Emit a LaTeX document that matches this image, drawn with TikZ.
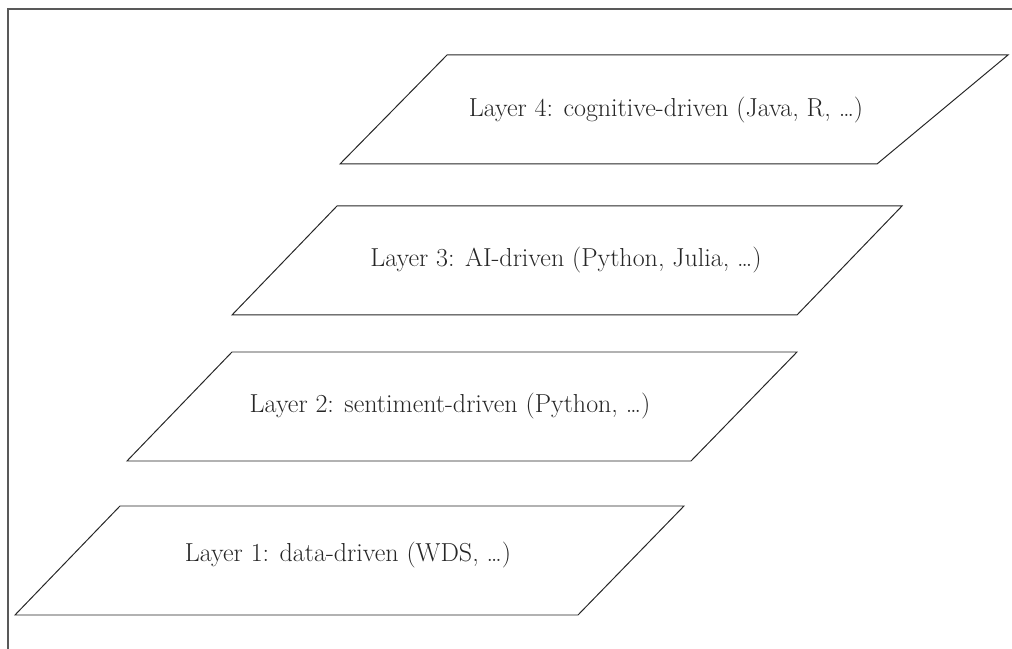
\documentclass[tikz,border=0pt]{standalone}
\usepackage{tikz}

\begin{document}
\begin{tikzpicture}[
        layer/.style={draw=black!85, line width=0.7pt, line join=miter},
        label/.style={font=\fontsize{18.5}{22}\selectfont, text=black!85, inner sep=0pt},
        frame/.style={draw=black!65, line width=1.4pt},
    ]
    \useasboundingbox (0,0) rectangle (25.3,16.225);
    % outer frame, only top and left sides
    \coordinate (ftl) at (0.2,16.0);
    \coordinate (ftr) at (25.3,16.0);
    \coordinate (fbl) at (0.2,0);
    \draw[frame] (fbl) -- (ftl) -- (ftr);

    % the four stacked planes
    \draw[layer] (0.375,0.85) -- (14.45,0.85) -- (17.1,3.575) -- (3.0,3.575) -- cycle;
    \draw[layer] (3.175,4.7) -- (17.275,4.7) -- (19.925,7.425) -- (5.8,7.425) -- cycle;
    \draw[layer] (5.8,8.35) -- (19.925,8.35) -- (22.55,11.075) -- (8.425,11.075) -- cycle;
    \draw[layer] (8.5,12.125) -- (21.925,12.125) -- (25.2,14.85) -- (11.175,14.85) -- cycle;

    \node[label](l1) at (8.7,2.35) {Layer 1: data-driven (WDS, \ldots)};
    \node[label](l2) at (11.25,6.075) {Layer 2: sentiment-driven (Python, \ldots)};
    \node[label](l3) at (14.15,9.725) {Layer 3: AI-driven (Python, Julia, \ldots)};
    \node[label](l4) at (16.65,13.475) {Layer 4: cognitive-driven (Java, R, \ldots)};
\end{tikzpicture}
\end{document}
